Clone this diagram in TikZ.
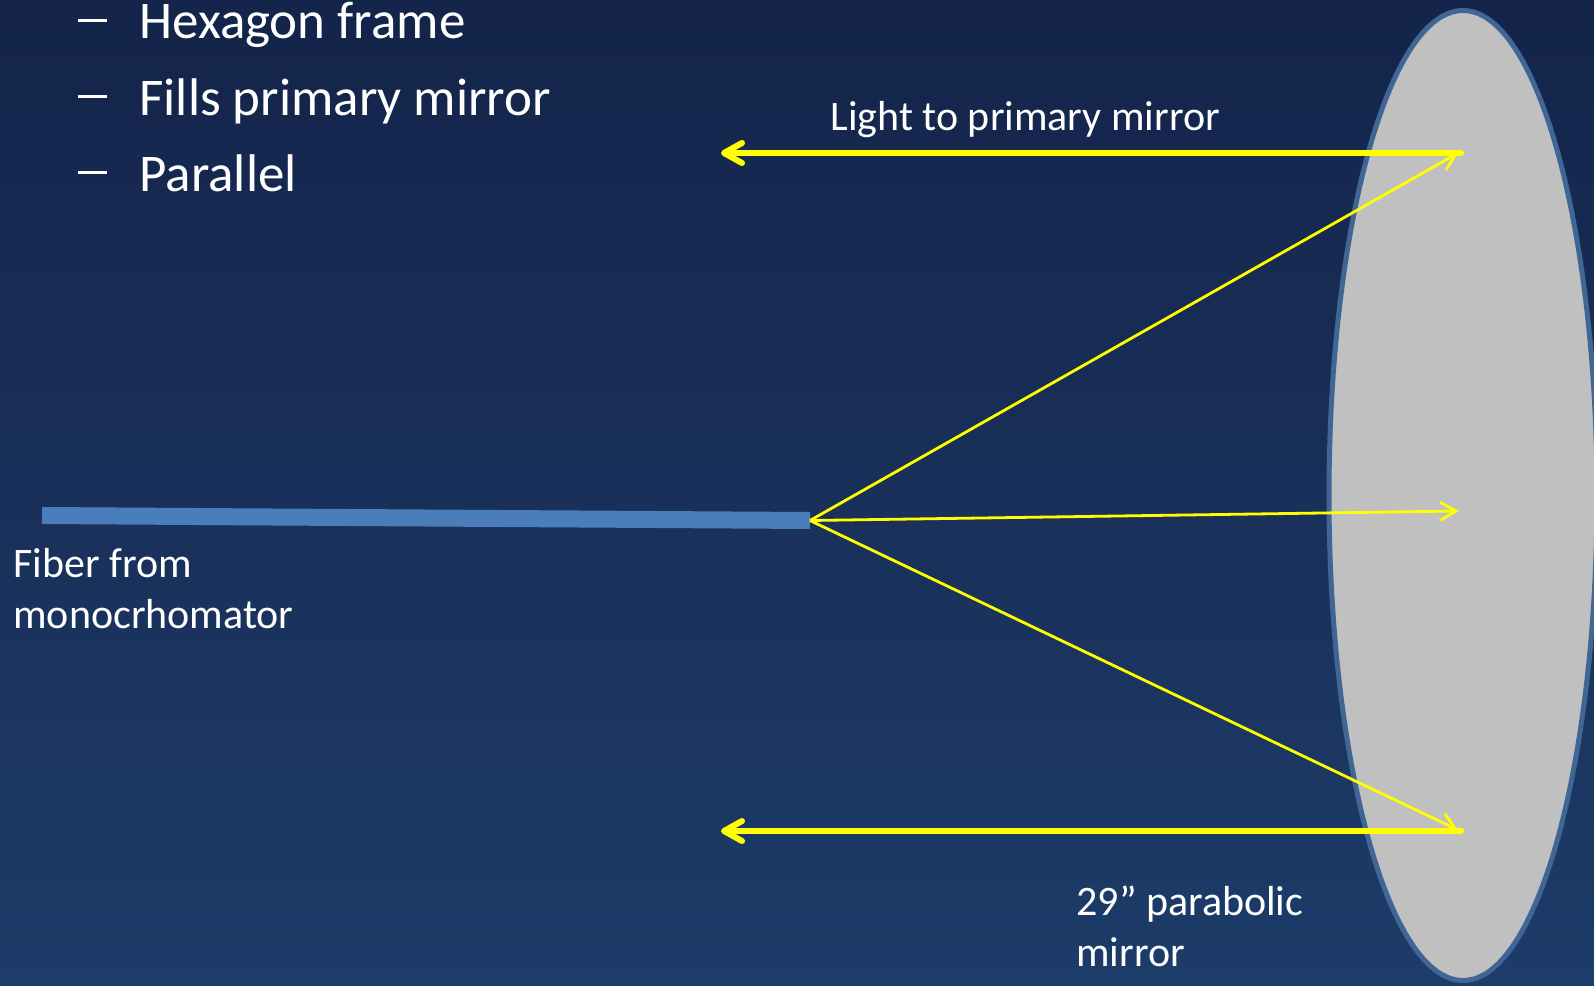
\documentclass[tikz,border=0pt]{standalone}
\usepackage{fontspec}
\setmainfont{Carlito}
\usetikzlibrary{arrows.meta}
\definecolor{bgtop}{HTML}{14244A}
\definecolor{bgbot}{HTML}{1D3C69}
\definecolor{mirfill}{HTML}{C0C0C0}
\definecolor{mirline}{HTML}{3F6694}
\definecolor{fibfill}{HTML}{4A7EBB}
\definecolor{rayyellow}{HTML}{FFFF00}
\newcommand{\bdash}{\rule[8.4pt]{14.5pt}{1.5pt}}

\begin{document}
\begin{tikzpicture}[x=0.5pt,y=-0.5pt]
    % `mirror' is the grey parabolic mirror seen edge-on.
    % `ray' is used for the thin rays leaving the fiber tip.
    % `beam' is used for the thick parallel beams going back.
    \tikzstyle{mirror} = [fill=mirfill,draw=mirline,line width=2.5pt]
    \tikzstyle{fiber} = [draw=fibfill,line width=8.5pt]
    \tikzstyle{ray} = [draw=rayyellow,line width=1.4pt,-{Straight Barb[length=8pt,width=9pt]}]
    \tikzstyle{beam} = [draw=rayyellow,line width=3pt,line cap=round,-{Straight Barb[length=9pt,width=10pt,round]}]
    \tikzstyle{lbl} = [text=white,inner sep=0pt,anchor=base west,font=\fontsize{21}{25}\selectfont]
    \tikzstyle{bullet} = [text=white,inner sep=0pt,anchor=base west,font=\fontsize{26.5}{32}\selectfont]
    %
    \useasboundingbox (0,0) rectangle (1594,985);
    \clip (0,0) rectangle (1594,985);
    \shade[top color=bgtop,bottom color=bgbot] (0,0) rectangle (1594,985);
    %
    % Mirror.
    \draw[mirror] (1463,495.5) ellipse [x radius=134,y radius=485];
    %
    % Fiber and the points where the light meets the mirror.
    \coordinate (fibstart) at (42,515.5);
    \coordinate (fibtip) at (810,520.5);
    \coordinate (hittop) at (1458,153);
    \coordinate (hitmid) at (1459,511);
    \coordinate (hitbot) at (1458,830);
    \coordinate (beamtop) at (1461,153);
    \coordinate (beambot) at (1461,831);
    \coordinate (endtop) at (721,153);
    \coordinate (endbot) at (721,831);
    \draw[fiber] (fibstart) -- (fibtip);
    %
    % Rays.
    \draw[ray] (fibtip) -- (hittop);
    \draw[ray] (fibtip) -- (hitmid);
    \draw[ray] (fibtip) -- (hitbot);
    \draw[beam] (beamtop) -- (endtop);
    \draw[beam] (beambot) -- (endbot);
    %
    % Text.
    \node[bullet] (dasha) at (78,39) {\bdash};
    \node[bullet] (hexlbl) at (139,39) {Hexagon frame};
    \node[bullet] (dashb) at (78,115) {\bdash};
    \node[bullet] (filllbl) at (139,115) {Fills primary mirror};
    \node[bullet] (dashc) at (78,191) {\bdash};
    \node[bullet] (parlbl) at (139,191) {Parallel};
    \node[lbl] (lightlbl) at (830,130) {Light to primary mirror};
    \node[lbl] (fiblbla) at (13,577) {Fiber from};
    \node[lbl] (fiblblb) at (13,628) {monocrhomator};
    \node[lbl] (mirlbla) at (1076,915) {29” parabolic};
    \node[lbl] (mirlblb) at (1076,966) {mirror};
\end{tikzpicture}
\end{document}
